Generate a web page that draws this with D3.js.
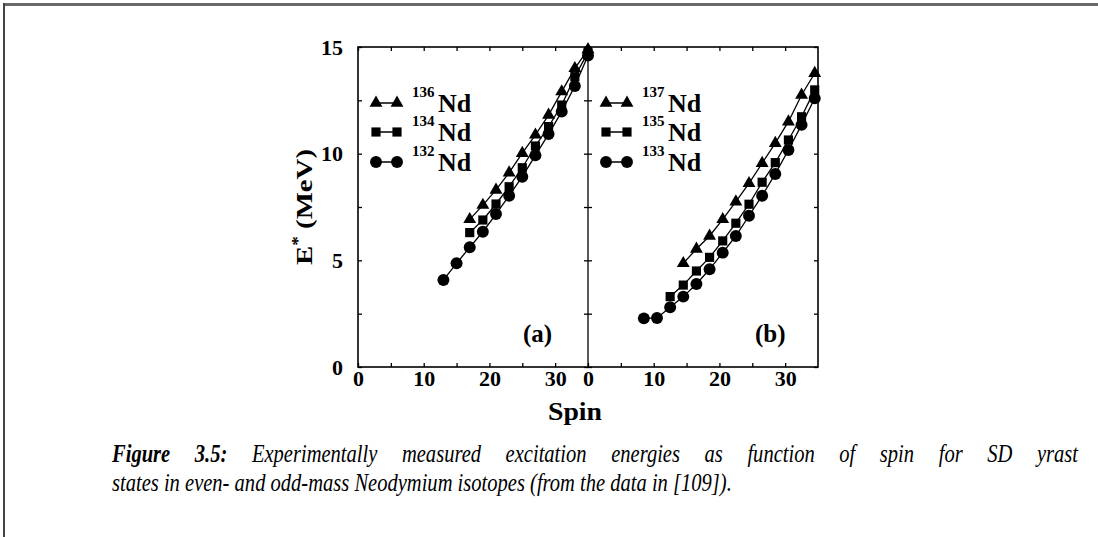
<!DOCTYPE html>
<html><head><meta charset="utf-8">
<script src="https://cdn.jsdelivr.net/npm/d3@7"></script>
<style>
html,body{margin:0;padding:0;background:#fff;}
svg{display:block;}
</style></head>
<body>
<svg id="chart" width="1098" height="537"></svg>
<script>
// ---------- data ----------
const panels = ["(a)", "(b)"];
const isotopesA = ["136", "134", "132"];
const isotopesB = ["137", "135", "133"];
const markerKinds = ["triangle", "square", "circle"];

const spin136 = [17,19,21,23,25,27,29,31,33,35];
const e136    = [6.92,7.59,8.30,9.11,10.02,10.88,11.81,12.91,14.00,14.88];
const spin134 = [17,19,21,23,25,27,29,31,33,35];
const e134    = [6.30,6.89,7.64,8.45,9.34,10.36,11.27,12.28,13.61,14.75];
const spin132 = [13,15,17,19,21,23,25,27,29,31,33,35];
const e132    = [4.08,4.86,5.61,6.34,7.17,8.03,8.92,9.92,10.92,11.97,13.17,14.60];

const spin137 = [14.5,16.5,18.5,20.5,22.5,24.5,26.5,28.5,30.5,32.5,34.5];
const e137    = [4.86,5.53,6.14,6.92,7.75,8.61,9.55,10.49,11.50,12.75,13.77];
const spin135 = [12.5,14.5,16.5,18.5,20.5,22.5,24.5,26.5,28.5,30.5,32.5,34.5];
const e135    = [3.30,3.84,4.50,5.14,5.91,6.74,7.63,8.66,9.58,10.64,11.73,12.99];
const spin133 = [8.5,10.5,12.5,14.5,16.5,18.5,20.5,22.5,24.5,26.5,28.5,30.5,32.5,34.5];
const e133    = [2.28,2.30,2.80,3.30,3.89,4.58,5.36,6.14,7.09,8.03,9.05,10.17,11.35,12.60];

const xTicks = [0,5,10,15,20,25,30];
const xLabels = [0,10,20,30];
const yTicks = [0,2.5,5,7.5,10,12.5,15];
const yLabels = [0,5,10,15];
const captionBold = "Figure 3.5:";
const captionLine1 = " Experimentally measured excitation energies as function of spin for SD yrast";
const captionLine2 = "states in even- and odd-mass Neodymium isotopes (from the data in [109]).";

// ---------- layout ----------
const FONT = "'Liberation Serif','Times New Roman',serif";
const svg = d3.select("#chart").attr("font-family", FONT);
const yTop = 47, yBottom = 367;
const y = d3.scaleLinear().domain([0,15]).range([yBottom, yTop]);
const xA = d3.scaleLinear().domain([0,35]).range([358,588]);
const xB = d3.scaleLinear().domain([0,35]).range([588,818]);

// page frame
svg.append("rect").attr("x",3).attr("y",3).attr("width",1095).attr("height",3).attr("fill","#6a6a6a");
svg.append("rect").attr("x",3).attr("y",3).attr("width",2).attr("height",534).attr("fill","#444");

const BOLD = "bold";
const seriesA = [
  {iso:isotopesA[0], kind:markerKinds[0], s:spin136, e:e136},
  {iso:isotopesA[1], kind:markerKinds[1], s:spin134, e:e134},
  {iso:isotopesA[2], kind:markerKinds[2], s:spin132, e:e132}];
const seriesB = [
  {iso:isotopesB[0], kind:markerKinds[0], s:spin137, e:e137},
  {iso:isotopesB[1], kind:markerKinds[1], s:spin135, e:e135},
  {iso:isotopesB[2], kind:markerKinds[2], s:spin133, e:e133}];

const symType = {triangle:d3.symbolTriangle, square:d3.symbolSquare, circle:d3.symbolCircle};
const symSize = {triangle:72, square:84, circle:112};
function sym(kind){ return d3.symbol().type(symType[kind]).size(symSize[kind])(); }

function styleAxis(g, fontSize){
  g.select(".domain").remove();
  g.attr("font-family", FONT);
  g.selectAll(".tick line").attr("stroke","#000").attr("stroke-width",1.3);
  g.selectAll("text").attr("font-family",FONT)
    .attr("font-weight",BOLD).attr("font-size",fontSize).attr("fill","#000");
}

function drawPanel(x, series, label, idx){
  const g = svg.append("g");
  const gb = g.append("g").attr("transform",`translate(0,${yBottom})`)
    .call(d3.axisBottom(x).tickValues(xTicks).tickSize(-4).tickPadding(3)
      .tickFormat(d => xLabels.includes(d) ? d : ""));
  styleAxis(gb, 22);
  const gt = g.append("g").attr("transform",`translate(0,${yTop})`)
    .call(d3.axisTop(x).tickValues(xTicks).tickSize(-4).tickFormat(""));
  styleAxis(gt, 22);
  const line = d3.line().x(d=>x(d[0])).y(d=>y(d[1]));
  series.forEach(sr=>{
    const pts = sr.s.map((v,i)=>[v, sr.e[i]]);
    g.append("path").attr("d", line(pts)).attr("fill","none").attr("stroke","#000").attr("stroke-width",1.3);
  });
  series.forEach(sr=>{
    const pts = sr.s.map((v,i)=>[v, sr.e[i]]);
    g.selectAll(null).data(pts).enter().append("path")
      .attr("d", sym(sr.kind)).attr("transform", d=>`translate(${x(d[0])},${y(d[1])})`)
      .attr("fill","#000");
  });
  const x0 = x(0);
  const rows = [103,132,162];
  series.forEach((sr,i)=>{
    const ry = rows[i];
    g.append("line").attr("x1",x0+18).attr("x2",x0+39).attr("y1",ry).attr("y2",ry).attr("stroke","#000").attr("stroke-width",1.5);
    [x0+18, x0+39].forEach(mx=>{
      g.append("path").attr("d", sym(sr.kind)).attr("transform",`translate(${mx},${ry})`).attr("fill","#000");
    });
    g.append("text").attr("x",x0+54).attr("y",ry-6).attr("font-size",15).attr("font-weight",BOLD).text(sr.iso);
    g.append("text").attr("x",x0+80).attr("y",ry+9).attr("font-size",26).attr("font-weight",BOLD).text("Nd");
  });
  g.append("text").attr("x", idx===0 ? 523 : 755).attr("y",342).attr("font-size",25).attr("font-weight",BOLD).text(label);
}

drawPanel(xA, seriesA, panels[0], 0);
drawPanel(xB, seriesB, panels[1], 1);

const gl = svg.append("g").attr("transform",`translate(358,0)`)
  .call(d3.axisLeft(y).tickValues(yTicks).tickSize(-4).tickPadding(15)
    .tickFormat(d => yLabels.includes(d) ? d : ""));
styleAxis(gl, 22);
const gd1 = svg.append("g").attr("transform",`translate(588,0)`)
  .call(d3.axisLeft(y).tickValues(yTicks).tickSize(4).tickFormat(""));
styleAxis(gd1, 22);
const gd2 = svg.append("g").attr("transform",`translate(588,0)`)
  .call(d3.axisRight(y).tickValues(yTicks).tickSize(4).tickFormat(""));
styleAxis(gd2, 22);
const gr = svg.append("g").attr("transform",`translate(818,0)`)
  .call(d3.axisRight(y).tickValues(yTicks).tickSize(-4).tickFormat(""));
styleAxis(gr, 22);

svg.append("rect").attr("x",358).attr("y",yTop).attr("width",460).attr("height",yBottom-yTop)
  .attr("fill","none").attr("stroke","#000").attr("stroke-width",1.6);
svg.append("line").attr("x1",588).attr("x2",588).attr("y1",yTop).attr("y2",yBottom).attr("stroke","#000").attr("stroke-width",1.3);

svg.append("text").attr("x",575).attr("y",420).attr("text-anchor","middle")
  .attr("font-size",25).attr("font-weight",BOLD)
  .attr("textLength",54).attr("lengthAdjust","spacingAndGlyphs").text("Spin");
const yt = svg.append("text").attr("transform","translate(312,207) rotate(-90) scale(1.2,1)").attr("text-anchor","middle")
  .attr("font-size",24).attr("font-weight",BOLD);
yt.append("tspan").text("E");
yt.append("tspan").attr("dy",-9).attr("font-size",16).text("*");
yt.append("tspan").attr("dy",9).text(" (MeV)");

// caption: condensed italic, first line justified
const capSize = 26;
const g2 = svg.append("g");
const t2 = g2.append("text").attr("font-size",capSize).attr("font-style","italic").text(captionLine2);
const w2 = t2.node().getComputedTextLength();
const sx = 620 / w2;
g2.attr("transform",`translate(112,491) scale(${sx},1)`);

const g1 = svg.append("g").attr("transform",`translate(112,462) scale(${sx},1)`);
const t1 = g1.append("text").attr("font-size",capSize).attr("font-style","italic");
t1.append("tspan").attr("font-weight",BOLD).text(captionBold);
t1.append("tspan").text(captionLine1);
const w1 = t1.node().getComputedTextLength();
const nSpaces = (captionBold + captionLine1).split(" ").length - 1;
const target = 966 / sx;
t1.attr("word-spacing", Math.max(0, (target - w1) / nSpaces));
</script>
</body></html>
